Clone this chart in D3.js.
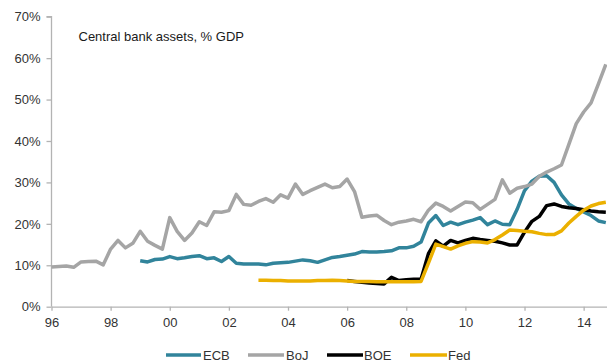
<!DOCTYPE html>
<html>
<head>
<meta charset="utf-8">
<script src="https://cdn.jsdelivr.net/npm/d3@7"></script>
<style>
  html, body { margin: 0; padding: 0; background: #fff; }
  svg { display: block; font-family: "Liberation Sans", Arial, sans-serif; }
</style>
</head>
<body>
<svg id="chart" width="607" height="364"></svg>
<script>
// ---- data (quarterly, % of GDP) ----
const seriesNames = ["ECB", "BoJ", "BOE", "Fed"];
const seriesColors = ["#31849b", "#a5a5a5", "#000000", "#ebb000"];
const seriesStart = [1999.0, 1996.0, 2006.0, 2003.0];

const ecbValues = [11.1, 10.8, 11.4, 11.5, 12.1, 11.6, 11.8, 12.1, 12.3, 11.6,
  11.8, 10.9, 12.1, 10.5, 10.3, 10.3, 10.3, 10.1, 10.5, 10.6,
  10.7, 11.0, 11.3, 11.1, 10.7, 11.3, 11.9, 12.1, 12.4, 12.7,
  13.3, 13.2, 13.2, 13.3, 13.5, 14.2, 14.2, 14.6, 15.6, 20.2,
  22.0, 19.6, 20.4, 19.8, 20.4, 20.9, 21.5, 19.8, 20.7, 19.9,
  19.8, 23.5, 28.0, 30.3, 31.5, 31.6, 30.0, 27.0, 24.8, 23.7,
  22.9, 22.0, 20.7, 20.3];

const bojValues = [9.6, 9.7, 9.8, 9.5, 10.8, 10.9, 11.0, 10.1, 13.9, 16.0,
  14.2, 15.3, 18.2, 15.8, 14.8, 13.9, 21.5, 18.2, 16.0, 17.8,
  20.5, 19.6, 22.9, 22.8, 23.2, 27.1, 24.7, 24.5, 25.4, 26.1,
  25.2, 27.0, 26.2, 29.6, 27.1, 28.0, 28.8, 29.6, 28.7, 29.0,
  30.8, 27.8, 21.6, 21.9, 22.1, 20.8, 19.8, 20.4, 20.7, 21.1,
  20.5, 23.3, 25.0, 24.2, 23.1, 24.2, 25.3, 25.1, 23.5, 24.7,
  25.9, 30.6, 27.4, 28.6, 29.0, 29.6, 31.5, 32.5, 33.3, 34.2,
  39.2, 44.2, 47.0, 49.2, 53.8, 58.5];

const boeValues = [6.3, 6.1, 5.9, 5.7, 5.6, 5.5, 7.1, 6.3, 6.5, 6.6,
  6.6, 12.8, 15.9, 14.6, 16.0, 15.4, 16.0, 16.5, 16.2, 16.0,
  15.8, 15.4, 14.9, 14.9, 18.0, 20.6, 21.8, 24.4, 24.8, 24.2,
  23.9, 23.7, 23.4, 23.1, 22.9, 22.8];

const fedValues = [6.4, 6.4, 6.3, 6.3, 6.2, 6.2, 6.2, 6.2, 6.3, 6.3,
  6.4, 6.3, 6.2, 6.1, 6.1, 6.1, 6.0, 6.0, 6.0, 6.0,
  6.0, 6.0, 6.1, 10.5, 15.1, 14.5, 13.9, 14.7, 15.3, 15.7,
  15.6, 15.4, 16.2, 17.3, 18.5, 18.4, 18.2, 18.1, 17.7, 17.4,
  17.4, 18.3, 20.2, 21.8, 23.3, 24.3, 24.9, 25.2];

const xTickYears = [1996, 1998, 2000, 2002, 2004, 2006, 2008, 2010, 2012, 2014];
const xTickLabels = ["96", "98", "00", "02", "04", "06", "08", "10", "12", "14"];
const yTickValues = [0, 10, 20, 30, 40, 50, 60, 70];
const yTickLabels = ["0%", "10%", "20%", "30%", "40%", "50%", "60%", "70%"];
const chartTitle = "Central bank assets, % GDP";

// ---- chart ----
const allValues = [ecbValues, bojValues, boeValues, fedValues];
const series = seriesNames.map((name, k) => ({
  name, color: seriesColors[k],
  points: allValues[k].map((v, i) => ({ t: seriesStart[k] + i * 0.25, v }))
}));

const svg = d3.select("#chart");
const x = d3.scaleLinear().domain([1996, 2014.79]).range([51.5, 607]);
const y = d3.scaleLinear().domain([0, 70]).range([306.7, 16.7]);

const axisColor = "#b3b3b3";
const textColor = "#333333";

// y axis
const yAxis = svg.append("g")
  .attr("transform", `translate(${x(1996)},0)`)
  .call(d3.axisLeft(y).tickValues(yTickValues)
    .tickFormat((d, i) => yTickLabels[i]).tickSize(5).tickPadding(6));
// x axis
const xAxis = svg.append("g")
  .attr("transform", `translate(0,${y(0)})`)
  .call(d3.axisBottom(x).tickValues(xTickYears)
    .tickFormat((d, i) => xTickLabels[i]).tickSize(4).tickSizeOuter(0).tickPadding(7));

[yAxis, xAxis].forEach(g => {
  g.select(".domain").attr("stroke", axisColor).attr("stroke-width", 1.3);
  g.selectAll(".tick line").attr("stroke", axisColor).attr("stroke-width", 1.3);
  g.selectAll(".tick text").attr("fill", textColor)
    .style("font-size", "13px").style("font-family", "'Liberation Sans', Arial, sans-serif");
});
yAxis.select(".domain").attr("d", `M-5,${y(70)}H0V${y(0)}`);

// title
svg.append("text").attr("x", 78.5).attr("y", 40.5)
  .attr("fill", "#1a1a1a").style("font-size", "13px").text(chartTitle);

// lines
const line = d3.line().x(d => x(d.t)).y(d => y(d.v));
svg.append("g").selectAll("path").data(series).join("path")
  .attr("d", d => line(d.points))
  .attr("fill", "none")
  .attr("stroke", d => d.color)
  .attr("stroke-width", 3.5)
  .attr("stroke-linejoin", "round");

// legend
const legendItems = [
  { x1: 166, x2: 201, tx: 203 },
  { x1: 248, x2: 284, tx: 286 },
  { x1: 327, x2: 363, tx: 364 },
  { x1: 410, x2: 447, tx: 448 }
];
const lg = svg.append("g");
series.forEach((s, k) => {
  const it = legendItems[k];
  lg.append("line").attr("x1", it.x1).attr("x2", it.x2)
    .attr("y1", 355).attr("y2", 355)
    .attr("stroke", s.color).attr("stroke-width", 3.5);
  lg.append("text").attr("x", it.tx).attr("y", 359.5)
    .attr("fill", textColor).style("font-size", "13px").text(s.name);
});
</script>
</body>
</html>
